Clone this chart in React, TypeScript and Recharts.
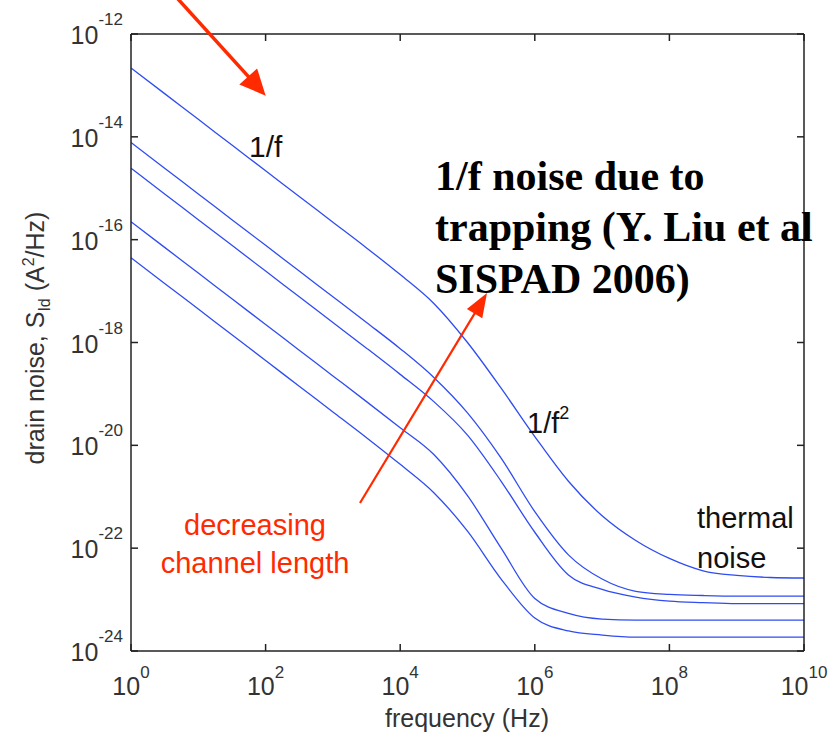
import { LineChart, Line, XAxis, YAxis } from "recharts";

// frequency grid, half-decade steps (Hz)
const FREQ = [
  1, 3.16, 10, 31.6, 100, 316, 1e3, 3.16e3, 1e4, 3.16e4, 1e5, 3.16e5, 1e6, 3.16e6, 1e7,
  3.16e7, 1e8, 3.16e8, 1e9, 3.16e9, 1e10,
];

// drain noise S_Id (A^2/Hz), longest channel first
const L1 = [
  2.19e-13, 6.92e-14, 2.19e-14, 6.92e-15, 2.19e-15, 6.92e-16, 2.19e-16, 6.92e-17, 2.09e-17,
  5.75e-18, 1.0e-18, 1.29e-19, 1.48e-20, 2.0e-21, 4.27e-22, 1.41e-22, 6.31e-23, 3.63e-23,
  2.95e-23, 2.69e-23, 2.63e-23,
];
const L2 = [
  7.76e-15, 2.45e-15, 7.76e-16, 2.45e-16, 7.76e-17, 2.45e-17, 7.76e-18, 2.45e-18, 7.59e-19,
  2.09e-19, 4.27e-20, 5.62e-21, 5.13e-22, 7.41e-23, 2.51e-23, 1.45e-23, 1.26e-23, 1.2e-23,
  1.17e-23, 1.17e-23, 1.17e-23,
];
const L3 = [
  2.45e-15, 7.76e-16, 2.45e-16, 7.76e-17, 2.45e-17, 7.76e-18, 2.45e-18, 7.76e-19, 2.4e-19,
  7.08e-20, 1.58e-20, 2.0e-21, 2.04e-22, 3.02e-23, 1.58e-23, 1.12e-23, 9.33e-24, 8.71e-24,
  8.32e-24, 8.32e-24, 8.32e-24,
];
const L4 = [
  2.24e-16, 7.08e-17, 2.24e-17, 7.08e-18, 2.24e-18, 7.08e-19, 2.24e-19, 7.08e-20, 2.19e-20,
  6.61e-21, 1.05e-21, 1.0e-22, 1.05e-23, 5.37e-24, 4.17e-24, 3.98e-24, 3.98e-24, 3.98e-24,
  3.98e-24, 3.98e-24, 3.98e-24,
];
const L5 = [
  4.47e-17, 1.41e-17, 4.47e-18, 1.41e-18, 4.47e-19, 1.41e-19, 4.47e-20, 1.41e-20, 4.27e-21,
  1.2e-21, 2.14e-22, 2.51e-23, 4.37e-24, 2.45e-24, 2.04e-24, 1.86e-24, 1.86e-24, 1.86e-24,
  1.86e-24, 1.86e-24, 1.86e-24,
];

const X_TICKS = [1, 1e2, 1e4, 1e6, 1e8, 1e10];
const X_EXP = ["0", "2", "4", "6", "8", "10"];
const Y_TICKS = [1e-24, 1e-22, 1e-20, 1e-18, 1e-16, 1e-14, 1e-12];
const Y_EXP = ["-24", "-22", "-20", "-18", "-16", "-14", "-12"];

const SERIES = ["L1", "L2", "L3", "L4", "L5"];
const rows = FREQ.map((f, i) => ({ f, L1: L1[i], L2: L2[i], L3: L3[i], L4: L4[i], L5: L5[i] }));

const SANS = "'Liberation Sans', Arial, Helvetica, sans-serif";
const SERIF = "'Liberation Serif', 'Times New Roman', serif";
const AXIS = "#222";
const BLUE = "#2f4cf2";
const RED = "#ff2a00";
const TICK = 7;

function expIndex(list: number[], v: number) {
  let best = 0;
  list.forEach((t, i) => {
    if (Math.abs(Math.log10(t) - Math.log10(v)) < Math.abs(Math.log10(list[best]) - Math.log10(v))) best = i;
  });
  return best;
}

function BottomTick({ x, y, payload }: any) {
  const e = X_EXP[expIndex(X_TICKS, payload.value)];
  return (
    <g>
      <line x1={x} y1={y} x2={x} y2={y - TICK} stroke={AXIS} strokeWidth={1.5} />
      <text x={x} y={y + 44} textAnchor="middle" fontFamily={SANS} fontSize={25} fill="#333">
        10
        <tspan dy={-17} fontSize={17}>{e}</tspan>
      </text>
    </g>
  );
}

function LeftTick({ x, y, payload }: any) {
  const e = Y_EXP[expIndex(Y_TICKS, payload.value)];
  return (
    <g>
      <line x1={x} y1={y} x2={x + TICK} y2={y} stroke={AXIS} strokeWidth={1.5} />
      <text x={x - 8} y={y + 10} textAnchor="end" fontFamily={SANS} fontSize={25} fill="#333">
        10
        <tspan dy={-19} fontSize={17}>{e}</tspan>
      </text>
    </g>
  );
}

function TopTick({ x, y }: any) {
  return <line x1={x} y1={y} x2={x} y2={y + TICK} stroke={AXIS} strokeWidth={1.5} />;
}

function RightTick({ x, y }: any) {
  return <line x1={x} y1={y} x2={x - TICK} y2={y} stroke={AXIS} strokeWidth={1.5} />;
}

function Arrow({ x1, y1, x2, y2, w, head, half }: any) {
  const len = Math.hypot(x2 - x1, y2 - y1);
  const ux = (x2 - x1) / len;
  const uy = (y2 - y1) / len;
  const bx = x2 - ux * head;
  const by = y2 - uy * head;
  const pts = `${x2},${y2} ${bx - uy * half},${by + ux * half} ${bx + uy * half},${by - ux * half}`;
  return (
    <g>
      <line x1={x1} y1={y1} x2={bx + ux * 2} y2={by + uy * 2} stroke={RED} strokeWidth={w} />
      <polygon points={pts} fill={RED} />
    </g>
  );
}

export default function App() {
  return (
    <div style={{ position: "absolute", left: 0, top: 0, width: 832, height: 739, background: "#fff" }}>
      <LineChart width={832} height={739} data={rows} margin={{ top: 4, right: 0, bottom: 0, left: 0 }}>
        <XAxis
          xAxisId="b"
          dataKey="f"
          type="number"
          scale="log"
          domain={[1, 1e10]}
          ticks={X_TICKS}
          allowDataOverflow
          height={88}
          tickSize={0}
          tickMargin={0}
          tickLine={false}
          axisLine={{ stroke: AXIS, strokeWidth: 1.5 }}
          tick={<BottomTick />}
          interval={0}
        />
        <XAxis
          xAxisId="t"
          orientation="top"
          dataKey="f"
          type="number"
          scale="log"
          domain={[1, 1e10]}
          ticks={X_TICKS}
          allowDataOverflow
          height={30}
          tickSize={0}
          tickMargin={0}
          tickLine={false}
          axisLine={{ stroke: AXIS, strokeWidth: 1.5 }}
          tick={<TopTick />}
          interval={0}
        />
        <YAxis
          yAxisId="l"
          type="number"
          scale="log"
          domain={[1e-24, 1e-12]}
          ticks={Y_TICKS}
          allowDataOverflow
          width={131}
          tickSize={0}
          tickMargin={0}
          tickLine={false}
          axisLine={{ stroke: AXIS, strokeWidth: 1.5 }}
          tick={<LeftTick />}
          interval={0}
        />
        <YAxis
          yAxisId="r"
          orientation="right"
          type="number"
          scale="log"
          domain={[1e-24, 1e-12]}
          ticks={Y_TICKS}
          allowDataOverflow
          width={28}
          tickSize={0}
          tickMargin={0}
          tickLine={false}
          axisLine={{ stroke: AXIS, strokeWidth: 1.5 }}
          tick={<RightTick />}
          interval={0}
        />
        {SERIES.map((k) => (
          <Line
            key={k}
            xAxisId="b"
            yAxisId="l"
            dataKey={k}
            type="monotone"
            stroke={BLUE}
            strokeWidth={1.3}
            dot={false}
            activeDot={false}
            isAnimationActive={false}
          />
        ))}
      </LineChart>

      <svg
        width={832}
        height={739}
        style={{ position: "absolute", left: 0, top: 0, pointerEvents: "none", overflow: "visible" }}
      >
        {/* axis titles */}
        <text x={467} y={727} textAnchor="middle" fontFamily={SANS} fontSize={25} fill="#333">
          frequency (Hz)
        </text>
        <text
          transform="translate(44,338) rotate(-90)"
          textAnchor="middle"
          fontFamily={SANS}
          fontSize={25}
          fill="#333"
        >
          drain noise, S
          <tspan dy={6} fontSize={16}>Id</tspan>
          <tspan dy={-6}> (A</tspan>
          <tspan dy={-10} fontSize={16}>2</tspan>
          <tspan dy={10}>/Hz)</tspan>
        </text>

        {/* slope annotations */}
        <text x={249} y={157} fontFamily={SANS} fontSize={30} fill="#111">1/f</text>
        <text x={527} y={433} fontFamily={SANS} fontSize={29} fill="#111">
          1/f
          <tspan dy={-14} fontSize={18}>2</tspan>
        </text>
        <text x={697} y={528} fontFamily={SANS} fontSize={29} fill="#111">thermal</text>
        <text x={697} y={568} fontFamily={SANS} fontSize={29} fill="#111">noise</text>

        {/* channel length trend */}
        <text x={255} y={535} textAnchor="middle" fontFamily={SANS} fontSize={29} fill={RED}>
          decreasing
        </text>
        <text x={255} y={573} textAnchor="middle" fontFamily={SANS} fontSize={29} fill={RED}>
          channel length
        </text>
        <Arrow x1={360} y1={503} x2={487} y2={293} w={2.2} head={24} half={9} />
        <Arrow x1={168} y1={-12} x2={265.7} y2={95.7} w={3.5} head={26} half={12} />

        <text fontFamily={SERIF} fontWeight="bold" fontSize={42} fill="#000">
          <tspan x={435} y={190}>1/f noise due to</tspan>
          <tspan x={435} y={241}>trapping (Y. Liu et al</tspan>
          <tspan x={435} y={293}>SISPAD 2006)</tspan>
        </text>
      </svg>
    </div>
  );
}
